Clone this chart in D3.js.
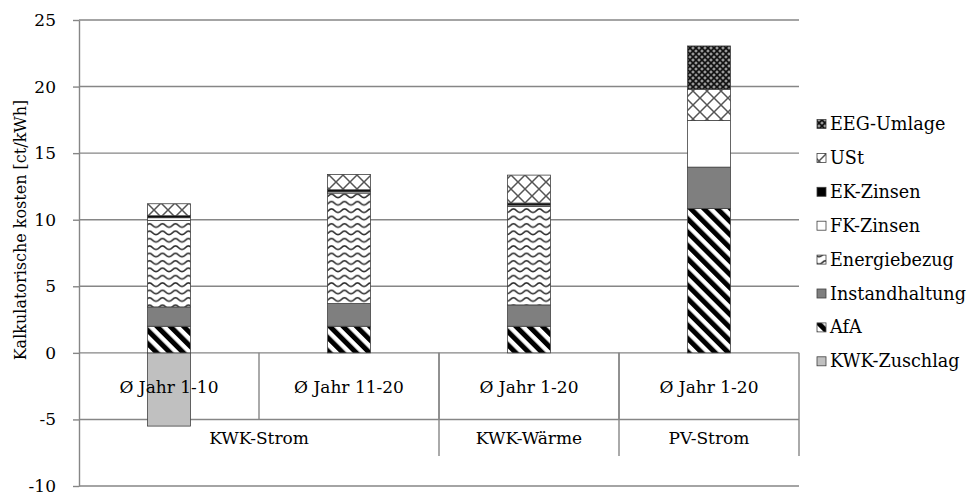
<!DOCTYPE html>
<html>
<head>
<meta charset="utf-8">
<script src="https://cdn.jsdelivr.net/npm/d3@7"></script>
<style>
  html, body { margin: 0; padding: 0; background: #fff; }
  svg { display: block; font-family: "DejaVu Serif", serif; }
</style>
</head>
<body>
<svg id="chart" width="977" height="498"></svg>
<script>
// ---------- DATA ----------
const categories = ["Ø Jahr 1-10", "Ø Jahr 11-20", "Ø Jahr 1-20", "Ø Jahr 1-20"];
const groupLabels = ["KWK-Strom", "KWK-Wärme", "PV-Strom"];
const groupSpans = [2, 1, 1];

const kwkZuschlag    = [-5.5, 0, 0, 0];
const afa            = [2.0, 2.0, 2.0, 10.85];
const instandhaltung = [1.45, 1.7, 1.6, 3.1];
const energiebezug   = [6.5, 8.3, 7.4, 0];
const fkZinsen       = [0.2, 0.1, 0.1, 3.5];
const ekZinsen       = [0.15, 0.15, 0.15, 0];
const ust            = [0.9, 1.15, 2.1, 2.35];
const eegUmlage      = [0, 0, 0, 3.25];

const seriesNames = ["KWK-Zuschlag", "AfA", "Instandhaltung", "Energiebezug", "FK-Zinsen", "EK-Zinsen", "USt", "EEG-Umlage"];
const seriesValues = [kwkZuschlag, afa, instandhaltung, energiebezug, fkZinsen, ekZinsen, ust, eegUmlage];
const legendOrder = ["EEG-Umlage", "USt", "EK-Zinsen", "FK-Zinsen", "Energiebezug", "Instandhaltung", "AfA", "KWK-Zuschlag"];

const yTicks = [-10, -5, 0, 5, 10, 15, 20, 25];
const yTitle = "Kalkulatorische kosten [ct/kWh]";

// ---------- LAYOUT ----------
const svg = d3.select("#chart");
const plotL = 79, plotR = 799, plotT = 20, plotB = 486;
const gridColor = "#868686";

const x = d3.scaleBand().domain(d3.range(categories.length)).range([plotL, plotR]).padding(0);
const y = d3.scaleLinear().domain([-10, 25]).range([plotB, plotT]);
const barW = x.bandwidth() * 0.238;

// ---------- PATTERNS ----------
const defs = svg.append("defs");
const pAfa = defs.append("pattern").attr("id", "p-afa").attr("patternUnits", "userSpaceOnUse")
  .attr("width", 9.4).attr("height", 9.4).attr("patternTransform", "rotate(-45)");
pAfa.append("rect").attr("width", 9.4).attr("height", 9.4).attr("fill", "#fff");
pAfa.append("rect").attr("width", 5).attr("height", 9.4).attr("fill", "#000");

const pEn = defs.append("pattern").attr("id", "p-en").attr("patternUnits", "userSpaceOnUse")
  .attr("width", 13).attr("height", 7.4);
pEn.append("rect").attr("width", 13).attr("height", 7.4).attr("fill", "#fff");
pEn.append("path").attr("d", "M0,5.2 C3,5.2 3.5,1.8 6.5,1.8 C9.5,1.8 10,5.2 13,5.2")
  .attr("fill", "none").attr("stroke", "#333").attr("stroke-width", 1.6);

const pUst = defs.append("pattern").attr("id", "p-ust").attr("patternUnits", "userSpaceOnUse")
  .attr("width", 14).attr("height", 14);
pUst.append("rect").attr("width", 14).attr("height", 14).attr("fill", "#fff");
pUst.append("path").attr("d", "M-1,-1L15,15M15,-1L-1,15")
  .attr("fill", "none").attr("stroke", "#555").attr("stroke-width", 1.5);

const pEeg = defs.append("pattern").attr("id", "p-eeg").attr("patternUnits", "userSpaceOnUse")
  .attr("width", 6).attr("height", 6);
pEeg.append("rect").attr("width", 6).attr("height", 6).attr("fill", "#9a9a9a");
pEeg.append("path").attr("d", "M-1,-1L7,7M7,-1L-1,7")
  .attr("fill", "none").attr("stroke", "#111").attr("stroke-width", 1.6);

const fills = {
  "KWK-Zuschlag": "#c0c0c0",
  "AfA": "url(#p-afa)",
  "Instandhaltung": "#7f7f7f",
  "Energiebezug": "url(#p-en)",
  "FK-Zinsen": "#ffffff",
  "EK-Zinsen": "#000000",
  "USt": "url(#p-ust)",
  "EEG-Umlage": "url(#p-eeg)"
};

// ---------- GRIDLINES ----------
svg.append("g").selectAll("line").data(yTicks).join("line")
  .attr("x1", plotL).attr("x2", plotR)
  .attr("y1", d => y(d)).attr("y2", d => y(d))
  .attr("stroke", gridColor).attr("stroke-width", 1.4);

// ---------- CATEGORY SEPARATORS ----------
const sepG = svg.append("g").attr("stroke", gridColor).attr("stroke-width", 1.4);
categories.forEach((c, i) => {
  if (i === 0) return;
  sepG.append("line").attr("x1", x(i)).attr("x2", x(i)).attr("y1", y(0)).attr("y2", y(-5));
});
let acc = 0;
groupSpans.forEach((s, gi) => {
  acc += s;
  const xx = acc < categories.length ? x(acc) : plotR;
  sepG.append("line").attr("x1", xx).attr("x2", xx).attr("y1", y(0)).attr("y2", 456);
});

// ---------- BARS ----------
const table = categories.map((c, i) => {
  const row = { idx: i };
  seriesNames.forEach((n, k) => row[n] = seriesValues[k][i]);
  return row;
});
const stacked = d3.stack().keys(seriesNames).offset(d3.stackOffsetDiverging)(table);

const barG = svg.append("g");
stacked.forEach(layer => {
  barG.append("g").selectAll("rect")
    .data(layer.filter(d => d[1] !== d[0]))
    .join("rect")
    .attr("x", d => x(d.data.idx) + x.bandwidth() / 2 - barW / 2)
    .attr("width", barW)
    .attr("y", d => y(Math.max(d[0], d[1])))
    .attr("height", d => Math.abs(y(d[0]) - y(d[1])))
    .attr("fill", fills[layer.key])
    .attr("stroke", "#404040").attr("stroke-width", 0.8);
});

// ---------- Y AXIS ----------
const yAxis = svg.append("g").attr("transform", `translate(${plotL},0)`)
  .call(d3.axisLeft(y).tickValues(yTicks).tickSize(6).tickSizeOuter(0).tickPadding(17).tickFormat(d3.format("d")));
yAxis.select(".domain").attr("stroke", gridColor).attr("stroke-width", 1.4);
yAxis.selectAll(".tick line").attr("stroke", gridColor).attr("stroke-width", 1.4);
yAxis.selectAll(".tick text").attr("font-size", 17).attr("fill", "#000")
  .attr("font-family", "DejaVu Serif, serif").text(d => d < 0 ? "-" + Math.abs(d) : d);

svg.append("text")
  .attr("transform", `translate(26,230) rotate(-90)`)
  .attr("text-anchor", "middle").attr("font-size", 16).attr("fill", "#000")
  .text(yTitle);

// ---------- CATEGORY LABELS ----------
svg.append("g").selectAll("text").data(categories).join("text")
  .attr("x", (d, i) => x(i) + x.bandwidth() / 2)
  .attr("y", 393)
  .attr("text-anchor", "middle").attr("font-size", 17).attr("fill", "#000")
  .text(d => d);

let acc2 = 0;
const gl = svg.append("g");
groupLabels.forEach((g, gi) => {
  const x0 = x(acc2);
  acc2 += groupSpans[gi];
  const x1 = acc2 < categories.length ? x(acc2) : plotR;
  gl.append("text").attr("x", (x0 + x1) / 2).attr("y", 444)
    .attr("text-anchor", "middle").attr("font-size", 17).attr("fill", "#000").text(g);
});

// ---------- LEGEND ----------
const legY0 = 130, legStep = 33.9;
const leg = svg.append("g");
legendOrder.forEach((n, i) => {
  const by = legY0 + i * legStep;
  leg.append("rect").attr("x", 817).attr("y", by - 10.5).attr("width", 9).attr("height", 9)
    .attr("fill", fills[n]).attr("stroke", "#404040").attr("stroke-width", 0.8);
  leg.append("text").attr("x", 830).attr("y", by).attr("font-size", 17.6).attr("fill", "#000").text(n);
});
</script>
</body>
</html>
